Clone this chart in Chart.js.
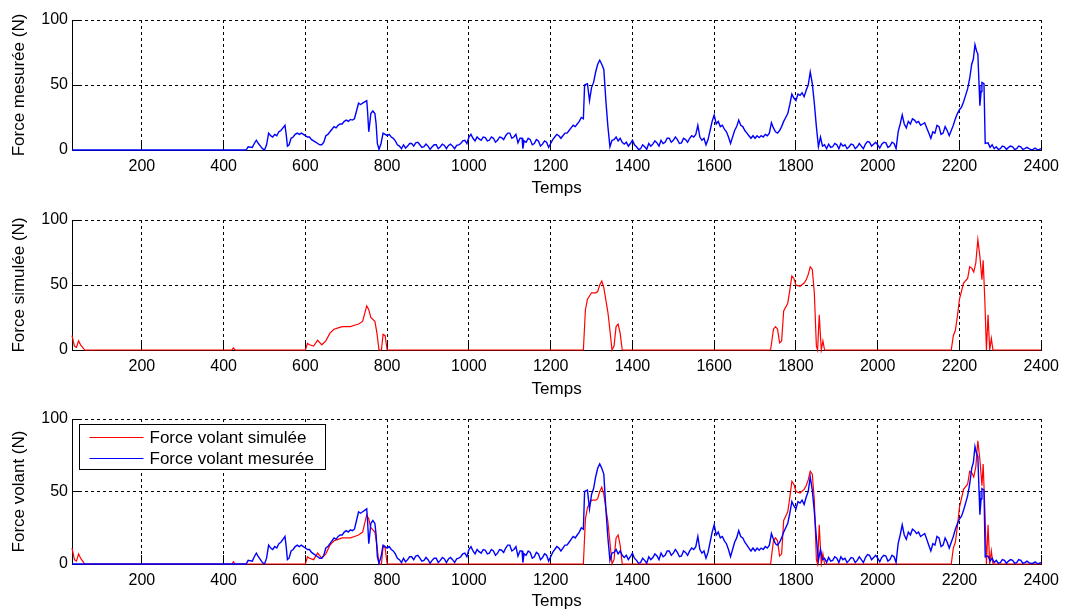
<!DOCTYPE html>
<html><head><meta charset="utf-8">
<script src="https://cdn.jsdelivr.net/npm/chart.js@4.4.0/dist/chart.umd.min.js"></script>
<style>
html,body{margin:0;padding:0;background:#fff;width:1066px;height:610px;overflow:hidden}
canvas{position:absolute;left:0}
</style></head><body>
<canvas id="c1" width="1066" height="202" style="top:0px"></canvas>
<canvas id="c2" width="1066" height="202" style="top:200px"></canvas>
<canvas id="c3" width="1066" height="212" style="top:400px"></canvas>
<script>
// ---- data ----
const tMes = [
  29,455,460,470,475,480,485,490,495,500,
  505,510,515,520,525,530,535,540,545,550,
  553,556,560,565,570,575,580,585,590,595,
  600,605,610,615,620,625,630,635,640,645,
  650,655,660,665,670,675,680,685,690,695,
  700,705,710,715,720,725,730,735,740,745,
  750,752,755,758,760,765,770,773,776,780,
  785,790,795,800,805,810,815,820,825,830,
  835,840,845,850,855,860,865,870,875,880,
  885,890,895,900,905,910,915,920,925,930,
  935,940,945,950,955,960,965,970,975,980,
  985,990,995,1000,1005,1010,1015,1020,1025,1030,
  1035,1040,1045,1050,1055,1060,1065,1070,1075,1080,
  1085,1090,1095,1100,1105,1110,1115,1120,1125,1130,
  1132,1135,1140,1145,1150,1155,1160,1165,1170,1175,
  1180,1185,1190,1195,1200,1205,1210,1215,1220,1225,
  1230,1235,1240,1245,1250,1255,1260,1265,1270,1275,
  1280,1283,1290,1295,1300,1305,1310,1315,1320,1325,
  1330,1335,1340,1345,1350,1355,1360,1365,1370,1375,
  1380,1385,1390,1395,1400,1405,1410,1415,1420,1425,
  1430,1435,1440,1445,1450,1455,1460,1465,1470,1475,
  1480,1485,1490,1495,1500,1505,1510,1515,1520,1525,
  1530,1535,1540,1545,1550,1555,1560,1565,1570,1575,
  1580,1585,1590,1595,1600,1605,1610,1615,1620,1625,
  1630,1635,1640,1645,1650,1655,1660,1665,1670,1675,
  1680,1685,1690,1695,1700,1705,1710,1715,1720,1725,
  1730,1735,1740,1745,1750,1755,1760,1765,1770,1775,
  1780,1785,1790,1795,1800,1805,1810,1815,1820,1825,
  1830,1835,1840,1845,1850,1855,1860,1865,1870,1875,
  1880,1885,1890,1895,1900,1905,1910,1915,1920,1925,
  1930,1935,1940,1945,1950,1955,1960,1965,1970,1975,
  1980,1985,1990,1995,2000,2005,2010,2015,2020,2025,
  2030,2035,2040,2045,2050,2055,2060,2065,2070,2075,
  2080,2085,2090,2095,2100,2105,2110,2115,2120,2125,
  2130,2135,2140,2145,2150,2155,2160,2165,2170,2175,
  2180,2185,2190,2195,2200,2205,2210,2215,2220,2225,
  2230,2234,2238,2242,2245,2248,2250,2253,2255,2260,
  2263,2270,2275,2280,2285,2290,2295,2300,2305,2310,
  2315,2320,2325,2330,2335,2340,2345,2350,2355,2360,
  2365,2370,2375,2380,2385,2390,2395,2400
];
const fMes = [
  0,0,2.5,2,5,7.5,5,3,1,0,
  4,13,11,10,12,11,14,15,17,19,
  12,3,4,9,10,12,13,12,13,12,
  11,10,10,8,7,6,5,4,4,6,
  11,12,14,16,18,17,19,20,20,22,
  23,22,23.5,23,24,30,36,35,36,37,
  38,30,14,22,28,30,28,20,5,0.5,
  5,13,12,11,12,10,9,7,4,3,
  1,4,1.5,3,5,5,3,5.5,6,4,
  2,2.5,4.5,3,0.5,2.5,4,4,1,2.5,
  4.5,3.5,1,3.5,4.5,3,1,3.5,4,5,
  7,7.5,5,10,12,9,7,10,8.5,7.5,
  10,9.5,7,7.5,10,9,6,7.5,10,9.5,
  8,11,13,13,9,10,12,5.5,9,9,
  1,7,6,9,8,4,5,8,7,3,
  4.5,7,6,2,5,8,10,12,11,9,
  11,13,13,15,17,19,18,20,22,25,
  24,50,51,38,48,52,60,66,69,66,
  62,38,18,2.5,7.5,8,10,7,9,6,
  4.5,6,3,5,7.5,4,2.5,0.5,1,4,
  2.5,0.5,5,3,4.5,7,5.5,3,7.5,5,
  6,9,9,6,7.5,10,8,5,5.5,9,
  8,6,9,11,10,12,19,10,7.5,9,
  4,8,15,22,27,20,22,18,19,16,
  14,10,5,10,15,18,23,19,18,15,
  13,11,9,11,9,11,9.5,11,10,12,
  11,13,21,17,14,13,15,18,22,25,
  28,35,43,40,38,43,42,44,41,46,
  50,60,51,36,18,2.5,10,3,4,1,
  4.5,2,2.5,5,4,1,5,3,4,1,
  2.5,4.5,4,1,2.5,5,3,1,4.5,6.5,
  6,3,4.5,6,4,1.5,4.5,6,5.5,2,
  3,6,5,1,14,20,27,20,17,22,
  20,24,23,21,22,19,20,21,17,13,
  9,14,13,19,18,12,13,18,15,11,
  15,19,24,28,31,33,37,42,47,55,
  66,70,81,76,74,50,34,45,52,51,
  5,5.5,2,4,1,2.5,0.5,1,3,2.5,
  0.5,2,3,2.5,0.5,1,3,2.5,0.5,1,
  2,1,0.3,0.5,1.5,0.3,0.5,1
];
const tSim = [
  29,35,40,45,50,55,60,420,424,428,
  600,605,610,620,630,640,650,660,670,680,
  690,700,710,720,730,740,750,755,760,770,
  775,780,786,790,795,800,1280,1285,1290,1300,
  1310,1315,1320,1325,1330,1340,1345,1350,1355,1360,
  1365,1370,1375,1738,1745,1750,1755,1760,1765,1770,
  1780,1785,1790,1795,1800,1810,1820,1825,1830,1835,
  1840,1845,1850,1853,1857,1862,1866,1870,2180,2185,
  2190,2195,2200,2210,2220,2225,2230,2235,2240,2245,
  2250,2255,2258,2262,2266,2270,2274,2278,2282,2400
];
const fSim = [
  11,3,2,7,4,2,0,0,1.5,0,
  0,5,4,3,7.5,4,7,13,16,17,
  18,18,18,19,20,22,34,31,25,22,
  13,0,0,12,11,0,0,31,39,44,
  44,45,50,53,48,29,15,0,3,18,
  20,13,0,0,16,18,16,5.5,7,30,
  36,46,57,55,50,49,51.5,54,58,64,
  62,44,3,0,27,0,7,0,0,11,
  15,26,39,51.5,55,64,63,60,67,85,
  72,54,69,39,0,27,0,9,0,0
];
const xTicks = [200,400,600,800,1000,1200,1400,1600,1800,2000,2200,2400];
const yTicks = [0,50,100];
const xMin = 29, xMax = 2400, yMin = 0, yMax = 100;
const xTitle = 'Temps';
const yTitles = ['Force mesurée (N)', 'Force simulée (N)', 'Force volant (N)'];
const labelSim = 'Force volant simulée';
const labelMes = 'Force volant mesurée';

// ---- rendering ----
const FONT = '"Liberation Sans", Arial, Helvetica, sans-serif';
const BLUE = '#0000ff', RED = '#ff0000';
function pts(t, f) { return t.map((x, i) => ({x: x, y: f[i]})); }
function al(p) { return Math.round(p - 0.5) + 0.5; }

const inTicks = {
  id: 'inTicks',
  beforeDatasetsDraw(chart) {
    const {ctx, chartArea: a, scales: {x, y}} = chart;
    ctx.save();
    ctx.strokeStyle = '#000'; ctx.lineWidth = 1; ctx.setLineDash([]);
    ctx.beginPath();
    x.ticks.forEach(t => { const px = al(x.getPixelForValue(t.value)); ctx.moveTo(px, a.bottom); ctx.lineTo(px, a.bottom - 9); });
    y.ticks.forEach(t => { const py = al(y.getPixelForValue(t.value)); ctx.moveTo(a.left, py); ctx.lineTo(a.left + 9, py); });
    ctx.stroke();
    ctx.restore();
  }
};

const boxLegend = {
  id: 'boxLegend',
  afterDatasetsDraw(chart, args, o) {
    if (!o || !o.show) return;
    const a = chart.chartArea, ctx = chart.ctx;
    const x0 = al(a.left + 7), y0 = al(a.top + 5), w = 246, h = 45;
    ctx.save();
    ctx.fillStyle = '#fff'; ctx.fillRect(x0, y0, w, h);
    ctx.strokeStyle = '#000'; ctx.lineWidth = 1; ctx.strokeRect(x0, y0, w, h);
    ctx.font = '17px ' + FONT; ctx.textBaseline = 'middle'; ctx.textAlign = 'left';
    chart.data.datasets.forEach((d, i) => {
      const yy = y0 + 13 + i * 21;
      ctx.strokeStyle = d.borderColor; ctx.lineWidth = 1;
      ctx.beginPath(); ctx.moveTo(x0 + 10, yy); ctx.lineTo(x0 + 64, yy); ctx.stroke();
      ctx.fillStyle = '#000';
      ctx.fillText(d.label, x0 + 70, yy + 1);
    });
    ctx.restore();
  }
};

function make(id, datasets, yTitle, padTop, axisH, titlePadB, showLegend) {
  return new Chart(document.getElementById(id), {
    type: 'line',
    data: { datasets: datasets },
    plugins: [inTicks, boxLegend],
    options: {
      responsive: false, animation: false, devicePixelRatio: 1, events: [],
      layout: { padding: { top: padTop, right: 23, left: 0, bottom: 0 } },
      plugins: { legend: { display: false }, tooltip: { enabled: false }, boxLegend: { show: showLegend } },
      elements: { point: { radius: 0 }, line: { tension: 0 } },
      scales: {
        x: {
          type: 'linear', min: xMin, max: xMax,
          afterBuildTicks: s => { s.ticks = xTicks.map(v => ({value: v})); },
          afterFit: s => { s.height = axisH; },
          grid: { color: '#000', lineWidth: 1, drawTicks: false },
          border: { display: true, color: '#000', width: 1, dash: [3, 3] },
          ticks: { color: '#000', font: { family: FONT, size: 16 }, padding: 7, maxRotation: 0, autoSkip: false, callback: v => String(v) },
          title: { display: true, text: xTitle, color: '#000', font: { family: FONT, size: 17 }, padding: { top: 0, bottom: titlePadB } }
        },
        y: {
          min: yMin, max: yMax,
          afterBuildTicks: s => { s.ticks = yTicks.map(v => ({value: v})); },
          afterFit: s => { s.width = 72; },
          grid: { color: '#000', lineWidth: 1, drawTicks: false },
          border: { display: true, color: '#000', width: 1, dash: [3, 3] },
          ticks: { color: '#000', font: { family: FONT, size: 16 }, padding: 4, callback: v => String(v) },
          title: { display: true, text: yTitle, color: '#000', font: { family: FONT, size: 17 }, padding: { top: 9, bottom: 0 } }
        }
      }
    }
  });
}

function ds(label, t, f, color, order, width) {
  return { label: label, data: pts(t, f), borderColor: color, backgroundColor: color, borderWidth: width, pointRadius: 0, fill: false, clip: 3, order: order };
}

make('c1', [ds(labelMes, tMes, fMes, BLUE, 0, 1.4)], yTitles[0], 20, 52, 3, false);
make('c2', [ds(labelSim, tSim, fSim, RED, 0, 1.2)], yTitles[1], 20, 52, 2, false);
make('c3', [ds(labelSim, tSim, fSim, RED, 1, 1.2), ds(labelMes, tMes, fMes, BLUE, 0, 1.4)], yTitles[2], 19, 48, 0, true);
</script>
</body></html>
